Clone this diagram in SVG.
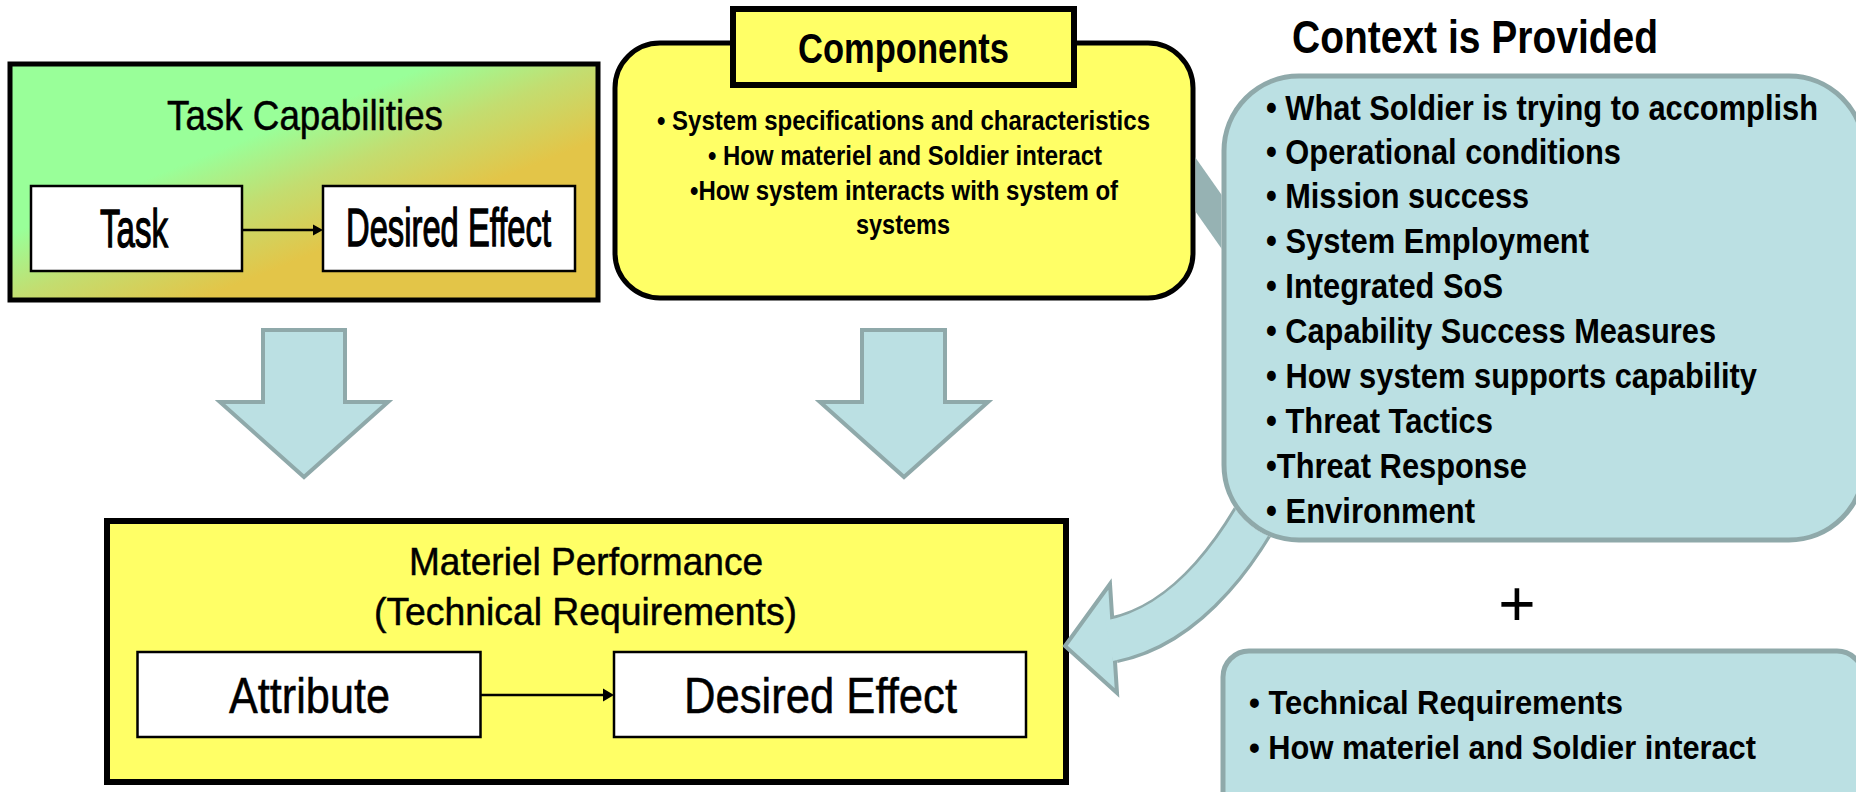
<svg xmlns="http://www.w3.org/2000/svg" width="1856" height="792" viewBox="0 0 1856 792">
<defs>
<linearGradient id="tcGrad" x1="0" y1="0" x2="1" y2="1">
<stop offset="0" stop-color="#99FF99"/>
<stop offset="0.36" stop-color="#99FF99"/>
<stop offset="0.5" stop-color="#C3DD70"/>
<stop offset="0.66" stop-color="#E3C548"/>
<stop offset="1" stop-color="#E3C548"/>
</linearGradient>
<clipPath id="behindBoxes">
<path clip-rule="evenodd" d="M0 0 H1856 V792 H0 Z M 660 40.5 H 1148 A 47.5 47.5 0 0 1 1195.5 88 V 253 A 47.5 47.5 0 0 1 1148 300.5 H 660 A 47.5 47.5 0 0 1 612.5 253 V 88 A 47.5 47.5 0 0 1 660 40.5 Z M 1299 73.5 H 1789 A 77.5 77.5 0 0 1 1866.5 151 V 465 A 77.5 77.5 0 0 1 1789 542.5 H 1299 A 77.5 77.5 0 0 1 1221.5 465 V 151 A 77.5 77.5 0 0 1 1299 73.5 Z"/>
</clipPath>
</defs>
<style>
text { font-family: "Liberation Sans Narrow", "Liberation Sans", Arial, sans-serif; fill: #000; }
.b { font-weight: bold; }
.thick { stroke: #000; stroke-width: 1.3; }
.med { stroke: #000; stroke-width: 0.5; }
.inner { fill: #fff; stroke: #000; stroke-width: 2.5; }
.yellow { fill: #FFFF66; stroke: #000; }
.teal { fill: #BBE0E3; stroke: #8FA9AA; stroke-width: 5; }
.blk { fill: #BBE0E3; stroke: #8FA9AA; stroke-width: 4; stroke-linejoin: miter; }
.line { stroke: #000; stroke-width: 2.5; fill: none; }
.head { fill: #000; }
</style>

<g id="task-capabilities">
<rect x="10" y="64" width="588" height="236" fill="url(#tcGrad)" stroke="#000" stroke-width="5"/>
<text class="med" x="167" y="130" font-size="42" textLength="276" lengthAdjust="spacingAndGlyphs">Task Capabilities</text>
<g id="task">
<rect class="inner" x="31" y="186" width="211" height="85"/>
<text class="thick" x="100" y="247" font-size="53" textLength="68" lengthAdjust="spacingAndGlyphs">Task</text>
</g>
<g id="task-desired-effect">
<rect class="inner" x="323" y="186" width="252" height="85"/>
<text class="thick" x="346" y="246" font-size="53" textLength="205" lengthAdjust="spacingAndGlyphs">Desired Effect</text>
</g>
</g>

<g id="components">
<rect class="yellow" x="615" y="43" width="578" height="255" rx="45" stroke-width="5"/>
<rect class="yellow" x="733" y="9" width="341" height="76" stroke-width="6"/>
<text class="b" x="798" y="63" font-size="42" textLength="211" lengthAdjust="spacingAndGlyphs">Components</text>
<text class="b" x="657" y="130" font-size="28" textLength="493" lengthAdjust="spacingAndGlyphs">• System specifications and characteristics</text>
<text class="b" x="708" y="165" font-size="28" textLength="394" lengthAdjust="spacingAndGlyphs">• How materiel and Soldier interact</text>
<text class="b" x="690" y="200" font-size="28" textLength="428" lengthAdjust="spacingAndGlyphs">•How system interacts with system of</text>
<text class="b" x="856" y="234" font-size="28" textLength="94" lengthAdjust="spacingAndGlyphs">systems</text>
</g>

<g id="context">
<text class="b" x="1292" y="53" font-size="46" textLength="366" lengthAdjust="spacingAndGlyphs">Context is Provided</text>
<rect class="teal" x="1224" y="76" width="640" height="464" rx="75"/>
<text class="b" x="1266" y="120" font-size="35" textLength="552" lengthAdjust="spacingAndGlyphs">• What Soldier is trying to accomplish</text>
<text class="b" x="1266" y="164" font-size="35" textLength="355" lengthAdjust="spacingAndGlyphs">• Operational conditions</text>
<text class="b" x="1266" y="208" font-size="35" textLength="263" lengthAdjust="spacingAndGlyphs">• Mission success</text>
<text class="b" x="1266" y="253" font-size="35" textLength="323" lengthAdjust="spacingAndGlyphs">• System Employment</text>
<text class="b" x="1266" y="298" font-size="35" textLength="237" lengthAdjust="spacingAndGlyphs">• Integrated SoS</text>
<text class="b" x="1266" y="343" font-size="35" textLength="450" lengthAdjust="spacingAndGlyphs">• Capability Success Measures</text>
<text class="b" x="1266" y="388" font-size="35" textLength="491" lengthAdjust="spacingAndGlyphs">• How system supports capability</text>
<text class="b" x="1266" y="433" font-size="35" textLength="227" lengthAdjust="spacingAndGlyphs">• Threat Tactics</text>
<text class="b" x="1266" y="478" font-size="35" textLength="261" lengthAdjust="spacingAndGlyphs">•Threat Response</text>
<text class="b" x="1266" y="523" font-size="35" textLength="209" lengthAdjust="spacingAndGlyphs">• Environment</text>
</g>

<g id="plus">
<text x="1517" y="626" font-size="64" text-anchor="middle">+</text>
</g>

<g id="context-technical">
<rect class="teal" x="1223" y="651" width="640" height="170" rx="26"/>
<text class="b" x="1249" y="714" font-size="34" textLength="374" lengthAdjust="spacingAndGlyphs">• Technical Requirements</text>
<text class="b" x="1249" y="759" font-size="34" textLength="507" lengthAdjust="spacingAndGlyphs">• How materiel and Soldier interact</text>
</g>

<g id="materiel-performance">
<rect class="yellow" x="107" y="521" width="959" height="261" stroke-width="6"/>
<text class="med" x="409" y="575" font-size="39" textLength="354" lengthAdjust="spacingAndGlyphs">Materiel Performance</text>
<text class="med" x="374" y="625" font-size="39" textLength="423" lengthAdjust="spacingAndGlyphs">(Technical Requirements)</text>
<g id="attribute">
<rect class="inner" x="137.5" y="652" width="343" height="85"/>
<text class="med" x="229" y="713" font-size="50" textLength="161" lengthAdjust="spacingAndGlyphs">Attribute</text>
</g>
<g id="materiel-desired-effect">
<rect class="inner" x="614" y="652" width="412" height="85"/>
<text class="med" x="684" y="713" font-size="50" textLength="273" lengthAdjust="spacingAndGlyphs">Desired Effect</text>
</g>
</g>

<g id="connectors">
<line class="line" x1="242" y1="230" x2="314" y2="230"/>
<polygon class="head" points="313,224.5 323,230 313,235.5"/>
<line class="line" x1="480.5" y1="695" x2="605" y2="695"/>
<polygon class="head" points="603,688.5 614,695 603,701.5"/>
<polygon class="blk" points="263,330 345,330 345,402 388,402 304,477 220,402 263,402"/>
<polygon class="blk" points="862,330 945,330 945,402 988,402 904,477 820,402 862,402"/>
<g clip-path="url(#behindBoxes)">
<path d="M 1150 120 L 1290 319" stroke="#96B2B3" stroke-width="31" fill="none"/>
<path d="M 1280 470 C 1245 545, 1190 625, 1113 640" stroke="#8FA9AA" stroke-width="47" fill="none"/>
<polygon points="1110,584 1065,646 1117,693" fill="#BBE0E3" stroke="#8FA9AA" stroke-width="4" stroke-linejoin="miter"/>
<path d="M 1280 470 C 1245 545, 1190 625, 1109 640.8" stroke="#BBE0E3" stroke-width="41" fill="none"/>
</g>
</g>
</svg>
